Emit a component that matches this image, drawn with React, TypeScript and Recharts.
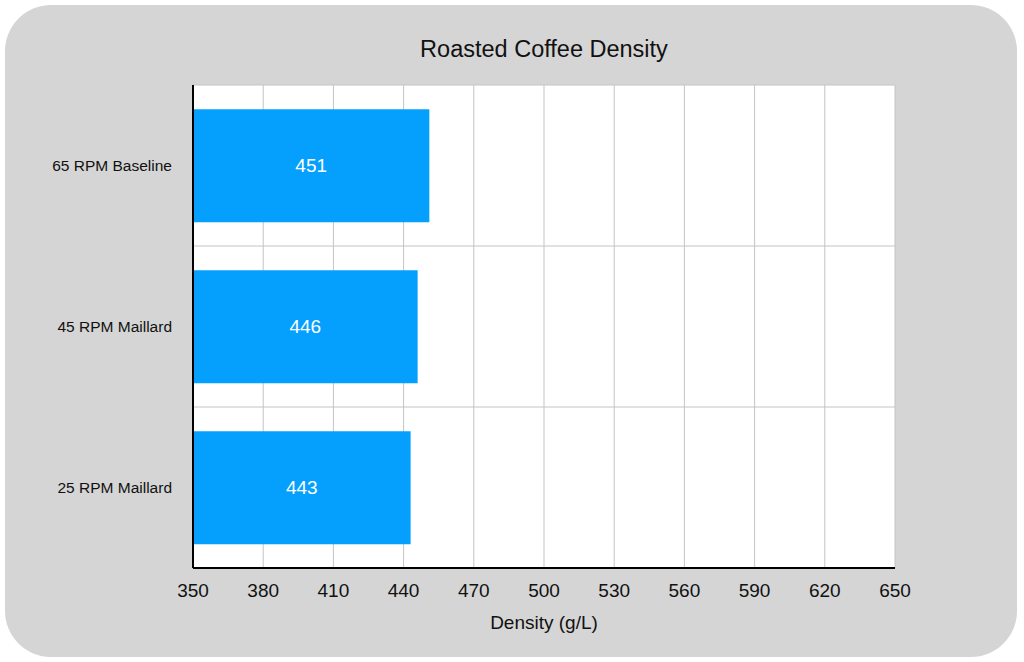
import React from 'react';
import { BarChart, Bar, XAxis, YAxis, CartesianGrid, LabelList, Label } from 'recharts';

const categories = ['65 RPM Baseline', '45 RPM Maillard', '25 RPM Maillard'];
const density = [451, 446, 443];
const xTicks = [350, 380, 410, 440, 470, 500, 530, 560, 590, 620, 650];

const data = categories.map((name, i) => ({ name, density: density[i] }));

const font = '"Liberation Sans", Arial, Helvetica, sans-serif';

// horizontal grid lines sit on the band edges, not the band centres
const bandEdges = ({ offset }: any) =>
  categories.map((_, i) => offset.top + (offset.height * i) / categories.length).concat(offset.top + offset.height);

export default function App() {
  return (
    <div style={{ position: 'fixed', left: 0, top: 0, width: 1024, height: 662, background: '#fff', fontFamily: font }}>
      <div
        style={{
          position: 'absolute',
          left: 5,
          top: 5,
          width: 1012,
          height: 652,
          borderRadius: 46,
          background: '#d5d5d5',
        }}
      />
      <div
        style={{
          position: 'absolute',
          left: 193,
          width: 702,
          top: 36,
          textAlign: 'center',
          fontSize: 23.5,
          color: '#111',
        }}
      >
        Roasted Coffee Density
      </div>
      <div style={{ position: 'absolute', left: 0, top: 0 }}>
        <BarChart
          width={1024}
          height={662}
          data={data}
          layout="vertical"
          margin={{ top: 85, right: 129, bottom: 0, left: 0 }}
          barCategoryGap="15%"
        >
          <CartesianGrid
            stroke="#c4c4c4"
            strokeWidth={1}
            horizontalCoordinatesGenerator={bandEdges}
            fill="#fff"
            fillOpacity={1}
          />
          <XAxis
            type="number"
            domain={[350, 650]}
            ticks={xTicks}
            allowDataOverflow
            height={94}
            tickLine={false}
            tickMargin={10}
            axisLine={{ stroke: '#000', strokeWidth: 2 }}
            tick={{ fontSize: 19, fill: '#111', fontFamily: font }}
          >
            <Label value="Density (g/L)" position="insideTop" offset={48} style={{ fontSize: 19, fill: '#111', fontFamily: font }} />
          </XAxis>
          <YAxis
            type="category"
            dataKey="name"
            width={193}
            tickLine={false}
            tickMargin={15}
            axisLine={{ stroke: '#000', strokeWidth: 2 }}
            tick={{ fontSize: 15.5, fill: '#111', fontFamily: font }}
          />
          <Bar dataKey="density" fill="#05a0fd" isAnimationActive={false}>
            <LabelList dataKey="density" position="center" fill="#fff" style={{ fontSize: 19, fontFamily: font }} />
          </Bar>
        </BarChart>
      </div>
    </div>
  );
}
